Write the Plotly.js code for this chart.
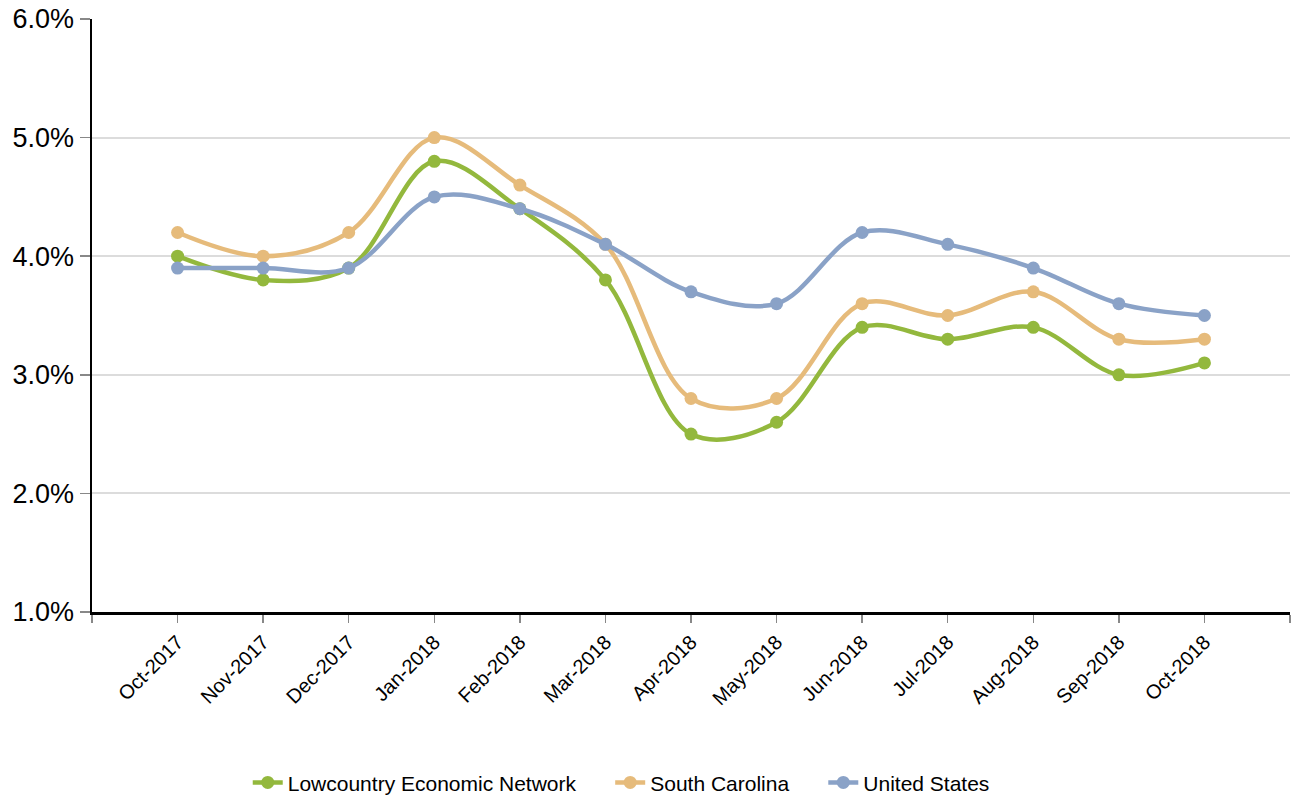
<!DOCTYPE html>
<html>
<head>
<meta charset="utf-8">
<script src="https://cdn.plot.ly/plotly-3.0.1.min.js"></script>
<style>html,body{margin:0;padding:0;background:#fff;}#chart{width:1294px;height:797px;}</style>
</head>
<body>
<div id="chart"></div>
<script>
const months = ["Oct-2017","Nov-2017","Dec-2017","Jan-2018","Feb-2018","Mar-2018","Apr-2018","May-2018","Jun-2018","Jul-2018","Aug-2018","Sep-2018","Oct-2018"];
const lowcountry = [4.0, 3.8, 3.9, 4.8, 4.4, 3.8, 2.5, 2.6, 3.4, 3.3, 3.4, 3.0, 3.1];
const southCarolina = [4.2, 4.0, 4.2, 5.0, 4.6, 4.1, 2.8, 2.8, 3.6, 3.5, 3.7, 3.3, 3.3];
const unitedStates = [3.9, 3.9, 3.9, 4.5, 4.4, 4.1, 3.7, 3.6, 4.2, 4.1, 3.9, 3.6, 3.5];
const seriesNames = ["Lowcountry Economic Network", "South Carolina", "United States"];
const colors = ["#93b83d", "#e6bb7b", "#8aa2c7"];

const pad = "\u00a0\u00a0\u00a0\u00a0\u00a0";
const idx = months.map((m, i) => i);
const data = [lowcountry, southCarolina, unitedStates].map((vals, k) => ({
  x: idx,
  y: vals.map(v => v / 100),
  name: seriesNames[k] + (k < 2 ? pad : ""),
  type: "scatter",
  mode: "lines+markers",
  line: {color: colors[k], width: 4.5, shape: "spline", smoothing: 1},
  marker: {color: colors[k], size: 13},
  hoverinfo: "skip"
}));

const tickvals = [-1].concat(idx).concat([13]);
const ticktext = [""].concat(months).concat([""]);

const layout = {
  width: 1294, height: 797,
  margin: {l: 92, r: 4, t: 19, b: 185, autoexpand: false},
  paper_bgcolor: "#fff", plot_bgcolor: "#fff",
  font: {family: "Liberation Sans, Arial, sans-serif", color: "#000"},
  showlegend: true,
  legend: {orientation: "h", x: 0.13, xanchor: "left", y: -0.288, yanchor: "middle",
           font: {size: 21, color: "#000"}, traceorder: "normal"},
  xaxis: {
    range: [-1, 13], tickmode: "array", tickvals: tickvals, ticktext: ticktext, automargin: false,
    tickangle: -45, tickfont: {size: 20}, ticks: "outside", ticklen: 8, tickcolor: "#888", tickwidth: 1.5,
    showline: true, linecolor: "#000", linewidth: 2.5, showgrid: false, zeroline: false, fixedrange: true
  },
  yaxis: {
    range: [0.01, 0.06], tickvals: [0.01, 0.02, 0.03, 0.04, 0.05, 0.06], tickformat: ".1%", automargin: false,
    tickfont: {size: 27}, ticks: "outside", ticklen: 10, tickcolor: "#888", tickwidth: 1.5,
    showline: true, linecolor: "#000", linewidth: 2.5, showgrid: true, gridcolor: "#dcdcdc", gridwidth: 2,
    zeroline: false, fixedrange: true
  }
};
Plotly.newPlot("chart", data, layout, {displayModeBar: false, staticPlot: true});
</script>
</body>
</html>
